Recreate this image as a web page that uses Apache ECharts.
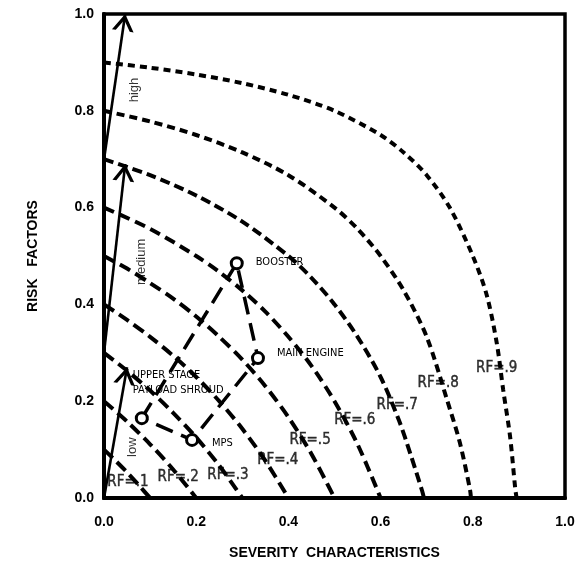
<!DOCTYPE html>
<html>
<head>
<meta charset="utf-8">
<script src="https://cdn.jsdelivr.net/npm/echarts@6/dist/echarts.min.js"></script>
<style>
  html, body { margin: 0; padding: 0; background: #fff; }
  #chart { width: 582px; height: 572px; }
</style>
</head>
<body>
<div id="chart"></div>
<script>
// Iso-risk curves, one list of [severity, risk] points per risk-factor level
const rfNames = ['RF=.1', 'RF=.2', 'RF=.3', 'RF=.4', 'RF=.5', 'RF=.6', 'RF=.7', 'RF=.8', 'RF=.9'];
const rf1 = [[0, 0.1], [0.025, 0.077], [0.05, 0.053], [0.075, 0.027], [0.1, 0]];
const rf2 = [[0, 0.2], [0.05, 0.158], [0.1, 0.111], [0.15, 0.059], [0.2, 0]];
const rf3 = [[0, 0.3], [0.05, 0.263], [0.1, 0.222], [0.15, 0.176], [0.2, 0.125], [0.25, 0.067], [0.3, 0]];
const rf4 = [[0, 0.4], [0.05, 0.368], [0.1, 0.333], [0.15, 0.294], [0.2, 0.25], [0.25, 0.2], [0.3, 0.143], [0.35, 0.077], [0.4, 0]];
const rf5 = [[0, 0.5], [0.05, 0.474], [0.1, 0.444], [0.15, 0.412], [0.2, 0.375], [0.25, 0.333], [0.3, 0.286], [0.35, 0.231], [0.4, 0.167], [0.45, 0.091], [0.5, 0]];
const rf6 = [[0, 0.6], [0.1, 0.556], [0.2, 0.5], [0.25, 0.467], [0.3, 0.429], [0.35, 0.385], [0.4, 0.333], [0.45, 0.273], [0.5, 0.2], [0.55, 0.111], [0.6, 0]];
const rf7 = [[0, 0.7], [0.1, 0.667], [0.2, 0.625], [0.3, 0.571], [0.4, 0.5], [0.45, 0.455], [0.5, 0.4], [0.55, 0.333], [0.6, 0.25], [0.64, 0.16], [0.665, 0.09], [0.69, 0.015], [0.694, 0]];
const rf8 = [[0, 0.8], [0.1, 0.778], [0.2, 0.75], [0.3, 0.714], [0.4, 0.667], [0.5, 0.6], [0.55, 0.556], [0.6, 0.5], [0.65, 0.429], [0.7, 0.333], [0.745, 0.2], [0.772, 0.114], [0.794, 0.017], [0.796, 0]];
const rf9 = [[0, 0.9], [0.1, 0.889], [0.2, 0.875], [0.3, 0.857], [0.4, 0.833], [0.5, 0.8], [0.6, 0.75], [0.65, 0.714], [0.7, 0.667], [0.75, 0.6], [0.8, 0.5], [0.83, 0.42], [0.852, 0.32], [0.866, 0.223], [0.881, 0.126], [0.892, 0.02], [0.895, 0]];
const rfCurves = [rf1, rf2, rf3, rf4, rf5, rf6, rf7, rf8, rf9];

// Where each curve's RF tag sits (data units)
const rfTagX = [0.052, 0.161, 0.269, 0.377, 0.447, 0.544, 0.636, 0.725, 0.852];
const rfTagY = [0.033, 0.043, 0.048, 0.079, 0.120, 0.161, 0.192, 0.238, 0.269];

// Subsystems: severity characteristics vs risk factors
const components = ['UPPER STAGE\nPAYLOAD SHROUD', 'BOOSTER', 'MAIN ENGINE', 'MPS'];
const severity = [0.082, 0.288, 0.334, 0.191];
const risk = [0.165, 0.485, 0.289, 0.120];

// Risk bands drawn as arrows up the left side
const bandNames = ['low', 'medium', 'high'];
const bandFrom = [[0, 0], [0, 0.3], [0, 0.7]];
const bandTo = [[0.05, 0.27], [0.046, 0.69], [0.046, 1.0]];
const bandTagX = [0.061, 0.082, 0.067];
const bandTagY = [0.105, 0.488, 0.843];

const tickValues = ['0.0', '0.2', '0.4', '0.6', '0.8', '1.0'];

// ---- styling ----
const curveDash = [[12, 6], [12, 6], [12, 6], [12, 6], [12, 6], [11, 6], [10, 5], [8, 5], [7, 5]];
const narrow = "'Liberation Sans Narrow', 'DejaVu Sans Condensed', 'Liberation Sans', sans-serif";
const plain = "'Liberation Sans', Arial, sans-serif";
// open arrow head: tip at the box centre, arms trailing back; corner specks keep the box square
const chevron = 'path://M0,0 L0.01,0 L0,0.01 Z M28,28 L27.99,28 L28,27.99 Z ' +
  'M14,14 L23,28 L19.8,28 L14,19 L8.2,28 L5,28 Z';

const series = [];

rfCurves.forEach((pts, i) => {
  series.push({
    type: 'line',
    name: rfNames[i],
    data: pts,
    smooth: 0.3,
    showSymbol: false,
    symbol: 'none',
    silent: true,
    z: 2,
    lineStyle: { color: '#000', width: 4, type: curveDash[i], cap: 'butt' }
  });
});

series.push({
  type: 'lines',
  coordinateSystem: 'cartesian2d',
  silent: true,
  z: 3,
  symbol: ['none', chevron],
  symbolSize: 34,
  lineStyle: { color: '#000', width: 2.6, opacity: 1, type: 'solid' },
  itemStyle: { color: '#000' },
  data: bandFrom.map((p, i) => ({ coords: [p, bandTo[i]] }))
});

// Closed loop through the subsystems
const loopOrder = [0, 1, 2, 3, 0];
series.push({
  type: 'line',
  data: loopOrder.map(i => [severity[i], risk[i]]),
  smooth: false,
  symbol: 'none',
  silent: true,
  z: 4,
  lineStyle: { color: '#000', width: 3.5, type: [18, 9], cap: 'butt' }
});

const compLabelStyle = [
  { position: [-2, -43], align: 'left', verticalAlign: 'top', lineHeight: 15 },
  { position: 'right', distance: 12, offset: [0, -1] },
  { position: 'right', distance: 12, offset: [0, -5] },
  { position: 'right', distance: 13, offset: [0, 3] }
];
series.push({
  type: 'scatter',
  silent: true,
  z: 5,
  symbol: 'circle',
  symbolSize: 11,
  itemStyle: { color: '#fff', borderColor: '#000', borderWidth: 3, opacity: 1 },
  data: components.map((name, i) => ({
    value: [severity[i], risk[i]],
    label: Object.assign({
      show: true,
      formatter: name,
      color: '#000',
      fontFamily: narrow,
      fontSize: 11
    }, compLabelStyle[i])
  }))
});

series.push({
  type: 'scatter',
  silent: true,
  z: 6,
  symbolSize: 0,
  data: rfNames.map((n, i) => ({
    value: [rfTagX[i], rfTagY[i]],
    label: {
      show: true, position: 'inside', formatter: n, color: '#000',
      fontFamily: narrow, fontSize: 15, textBorderColor: '#000', textBorderWidth: 0.4
    }
  }))
});

series.push({
  type: 'scatter',
  silent: true,
  z: 6,
  symbolSize: 0,
  data: bandNames.map((n, i) => ({
    value: [bandTagX[i], bandTagY[i]],
    label: {
      show: true, position: 'inside', formatter: n, rotate: 90, color: '#000',
      fontFamily: plain, fontSize: 13
    }
  }))
});

const axisCommon = {
  type: 'value',
  min: 0,
  max: 1,
  interval: 0.2,
  splitLine: { show: false },
  axisTick: { show: false },
  axisLine: { show: true, lineStyle: { color: '#000', width: 4 } },
  nameTextStyle: { color: '#000', fontWeight: 'bold', fontSize: 14, fontFamily: plain }
};

const option = {
  backgroundColor: '#fff',
  animation: false,
  grid: {
    left: 104, right: 17, top: 14, bottom: 74,
    show: true, borderColor: '#000', borderWidth: 3.5
  },
  xAxis: Object.assign({}, axisCommon, {
    name: 'SEVERITY  CHARACTERISTICS',
    nameLocation: 'middle',
    nameGap: 48,
    axisLabel: {
      margin: 17, color: '#000', fontWeight: 'bold', fontSize: 14, fontFamily: plain,
      formatter: v => tickValues[Math.round(v * 5)]
    }
  }),
  yAxis: Object.assign({}, axisCommon, {
    name: 'RISK   FACTORS',
    nameLocation: 'middle',
    nameGap: 64,
    axisLabel: {
      margin: 10, color: '#000', fontWeight: 'bold', fontSize: 14, fontFamily: plain,
      formatter: v => tickValues[Math.round(v * 5)]
    }
  }),
  series: series
};

const chart = echarts.init(document.getElementById('chart'), null, { renderer: 'canvas' });
chart.setOption(option);
</script>
</body>
</html>
